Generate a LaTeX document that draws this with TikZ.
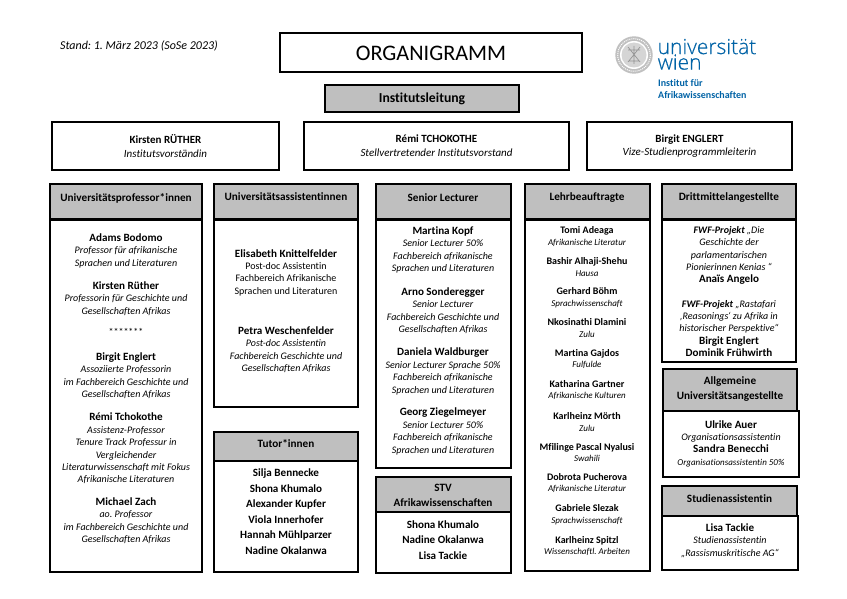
\documentclass[tikz,border=0pt]{standalone}
\usepackage{fontspec}
\setmainfont{Carlito}[Ligatures=CommonOff]
\newfontfamily\logofont{Open Sans Light}[FakeBold=0.4]
\usepackage{xcolor}
\frenchspacing
\definecolor{headgray}{RGB}{191,191,191}
\definecolor{univblue}{RGB}{0,99,166}
\definecolor{sealgray}{RGB}{150,150,150}
\newcommand{\nm}[1]{{\fontsize{11.1}{12.4}\selectfont\bfseries #1}}
\newcommand{\rl}[1]{{\fontsize{10}{12.4}\selectfont\itshape #1}}
\newcommand{\nms}[1]{{\fontsize{10}{11.6}\selectfont\bfseries #1}}
\newcommand{\rls}[1]{{\fontsize{9}{11.6}\selectfont\itshape #1}}
\tikzset{
	frame/.style={draw=black,line width=2pt,fill=white,inner sep=0pt,outer sep=0pt,anchor=north west},
	head/.style={frame,fill=headgray},
	lines/.style={align=center,inner sep=0pt,font=\fontsize{10}{12.4}\selectfont},
	toplines/.style={align=center,inner sep=0pt,font=\fontsize{11}{13.7}\selectfont},
	minilines/.style={align=center,inner sep=0pt,font=\fontsize{9}{11.6}\selectfont},
	names/.style={align=center,inner sep=0pt,font=\fontsize{11.1}{15.6}\selectfont\bfseries},
	caption/.style={align=center,inner sep=0pt,font=\fontsize{11.2}{15}\selectfont\bfseries},
}
\begin{document}
\begin{tikzpicture}[x=1pt,y=-1pt]
	\useasboundingbox (0,0) rectangle (847,599);
	\fill[white] (0,0) rectangle (847,599);
	
	% titel und stand
	\node[anchor=west,inner sep=0pt,font=\fontsize{12}{14}\selectfont\itshape] (stand) at (60,46) {Stand: 1. März 2023 (SoSe 2023)};
	\node[frame,minimum width=302pt,minimum height=39pt] (title) at (280,33) {};
	\node[inner sep=0pt,font=\fontsize{22.2}{24}\selectfont] (titletext) at (431,53) {ORGANIGRAMM};
	\node[head,minimum width=194pt,minimum height=27pt] (leitung) at (325,85) {};
	\node[inner sep=0pt,font=\fontsize{13.7}{15}\selectfont\bfseries] (leitungtext) at (422,99) {Institutsleitung};
	
	% logo
	\fill[sealgray!60] (634,55) circle (18.7);
	\fill[white] (634,55) circle (14);
	\fill[sealgray!40] (634,55) circle (12.5);
	\draw[white,line width=1pt,densely dotted] (634,55) circle (16.3);
	\draw[sealgray,line width=0.7pt] (628,50)--(640,50) (629,61)--(639,61) (634,46)--(634,64) (628,47)--(640,62) (640,47)--(628,62);
	\node[anchor=west,inner sep=0pt,align=left,text=univblue,font=\fontsize{21}{15.5}\logofont] (univ) at (657.5,54.3) {universität\\wien};
	\node[anchor=west,inner sep=0pt,align=left,text=univblue,font=\fontsize{10}{12}\selectfont\bfseries] (institut) at (658,89) {Institut für\\Afrikawissenschaften};
	
	% institutsleitung
	\node[frame,minimum width=227pt,minimum height=48pt] (ruether) at (52,122) {};
	\node[toplines] (ruethertext) at (ruether.center) {\textbf{Kirsten RÜTHER}\\\textit{Institutsvorständin}};
	\node[frame,minimum width=265pt,minimum height=48pt] (tchokothe) at (304,122) {};
	\node[toplines] (tchokothetext) at (tchokothe.center) {\textbf{Rémi TCHOKOTHE}\\\textit{Stellvertretender Institutsvorstand}};
	\node[frame,minimum width=205pt,minimum height=48pt] (englert) at (587,122) {};
	\node[toplines] (englerttext) at (englert.center) {\textbf{Birgit ENGLERT}\\\textit{Vize-Studienprogrammleiterin}};
	
	% spalte 1
	\node[frame,minimum width=152pt,minimum height=352pt] (profbody) at (50,220) {};
	\node[head,minimum width=152pt,minimum height=35pt] (profhead) at (50,184) {};
	\node[caption] (profcap) at (126,198) {Universitätsprofessor*innen};
	\node[lines] (bodomo) at (126,250.7) {\nm{Adams Bodomo}\\\rl{Professor für afrikanische}\\\rl{Sprachen und Literaturen}};
	\node[lines] (ruetherb) at (126,298.5) {\nm{Kirsten Rüther}\\\rl{Professorin für Geschichte und}\\\rl{Gesellschaften Afrikas}};
	\node[lines] (stars) at (126,332) {*******};
	\node[lines] (englertb) at (126,375.5) {\nm{Birgit Englert}\\\rl{Assoziierte Professorin}\\\rl{im Fachbereich Geschichte und}\\\rl{Gesellschaften Afrikas}};
	\node[lines] (tchokotheb) at (126,448.5) {\nm{Rémi Tchokothe}\\\rl{Assistenz-Professor}\\\rl{Tenure Track Professur in}\\\rl{Vergleichender}\\\rl{Literaturwissenschaft mit Fokus}\\\rl{Afrikanische Literaturen}};
	\node[lines] (zach) at (126,520.5) {\nm{Michael Zach}\\\rl{ao. Professor}\\\rl{im Fachbereich Geschichte und}\\\rl{Gesellschaften Afrikas}};
	
	% spalte 2
	\node[frame,minimum width=143.5pt,minimum height=187pt] (assbody) at (214,220) {};
	\node[head,minimum width=144pt,minimum height=35pt] (asshead) at (214,184) {};
	\node[caption] (asscap) at (286,197) {Universitätsassistentinnen};
	\node[lines] (knittel) at (286,272.7) {\nm{Elisabeth Knittelfelder}\\Post-doc Assistentin\\Fachbereich Afrikanische\\Sprachen und Literaturen};
	\node[lines] (weschen) at (286,349.7) {\nm{Petra Weschenfelder}\\\rl{Post-doc Assistentin}\\\rl{Fachbereich Geschichte und}\\\rl{Gesellschaften Afrikas}};
	\node[frame,minimum width=144pt,minimum height=111pt] (tutorbody) at (214,461) {};
	\node[head,minimum width=144pt,minimum height=29pt] (tutorhead) at (214,432) {};
	\node[caption] (tutorcap) at (286,444) {Tutor*innen};
	\node[names] (tutornames) at (286,511.7) {Silja Bennecke\\Shona Khumalo\\Alexander Kupfer\\Viola Innerhofer\\Hannah Mühlparzer\\Nadine Okalanwa};
	
	% spalte 3
	\node[frame,minimum width=135pt,minimum height=248pt] (seniorbody) at (375.5,220) {};
	\node[head,minimum width=135pt,minimum height=35pt] (seniorhead) at (375.5,184) {};
	\node[caption] (seniorcap) at (443,197.5) {Senior Lecturer};
	\node[lines] (kopf) at (443,250) {\nm{Martina Kopf}\\\rl{Senior Lecturer 50\%}\\\rl{Fachbereich afrikanische}\\\rl{Sprachen und Literaturen}};
	\node[lines] (sonder) at (443,310.5) {\nm{Arno Sonderegger}\\\rl{Senior Lecturer}\\\rl{Fachbereich Geschichte und}\\\rl{Gesellschaften Afrikas}};
	\node[lines] (wald) at (443,371.5) {\nm{Daniela Waldburger}\\\rl{Senior Lecturer Sprache 50\%}\\\rl{Fachbereich afrikanische}\\\rl{Sprachen und Literaturen}};
	\node[lines] (ziegel) at (443,431.5) {\nm{Georg Ziegelmeyer}\\\rl{Senior Lecturer 50\%}\\\rl{Fachbereich afrikanische}\\\rl{Sprachen und Literaturen}};
	\node[frame,minimum width=135pt,minimum height=61pt] (stvbody) at (375.5,512) {};
	\node[head,minimum width=135pt,minimum height=35pt] (stvhead) at (375.5,477) {};
	\node[caption] (stvcap) at (443,495.5) {STV\\Afrikawissenschaften};
	\node[names] (stvnames) at (443,540) {Shona Khumalo\\Nadine Okalanwa\\Lisa Tackie};
	
	% spalte 4
	\node[frame,minimum width=125pt,minimum height=351pt] (lehrbody) at (524.5,220) {};
	\node[head,minimum width=125pt,minimum height=35pt] (lehrhead) at (524.5,184) {};
	\node[caption] (lehrcap) at (587,198) {Lehrbeauftragte};
	\node[minilines] (adeaga) at (587,236.5) {\nms{Tomi Adeaga}\\\rls{Afrikanische Literatur}};
	\node[minilines] (alhaji) at (587,267) {\nms{Bashir Alhaji-Shehu}\\\rls{Hausa}};
	\node[minilines] (boehm) at (587,298) {\nms{Gerhard Böhm}\\\rls{Sprachwissenschaft}};
	\node[minilines] (dlamini) at (587,328) {\nms{Nkosinathi Dlamini}\\\rls{Zulu}};
	\node[minilines] (gajdos) at (587,359) {\nms{Martina Gajdos}\\\rls{Fulfulde}};
	\node[minilines] (gartner) at (587,390) {\nms{Katharina Gartner}\\\rls{Afrikanische Kulturen}};
	\node[minilines] (moerth) at (587,422) {\nms{Karlheinz Mörth}\\\rls{Zulu}};
	\node[minilines] (nyalusi) at (587,452.5) {\nms{Mfilinge Pascal Nyalusi}\\\rls{Swahili}};
	\node[minilines] (pucherova) at (587,483) {\nms{Dobrota Pucherova}\\\rls{Afrikanische Literatur}};
	\node[minilines] (slezak) at (587,515) {\nms{Gabriele Slezak}\\\rls{Sprachwissenschaft}};
	\node[minilines] (spitzl) at (587,546) {\nms{Karlheinz Spitzl}\\\rls{Wissenschaftl. Arbeiten}};
	
	% spalte 5
	\node[frame,minimum width=134pt,minimum height=142pt] (drittbody) at (662,220) {};
	\node[head,minimum width=134pt,minimum height=35pt] (dritthead) at (662,184) {};
	\node[caption] (drittcap) at (729,198) {Drittmittelangestellte};
	\node[lines] (fwfa) at (729,255.5) {\rl{\textbf{FWF-Projekt} „Die}\\\rl{Geschichte der}\\\rl{parlamentarischen}\\\rl{Pionierinnen Kenias “}\\\nm{Anaïs Angelo}};
	\node[lines] (fwfb) at (729,328.5) {\rl{\textbf{FWF-Projekt} „Rastafari}\\\rl{‚Reasonings‘ zu Afrika in}\\\rl{historischer Perspektive“}\\\nm{Birgit Englert}\\\nm{Dominik Frühwirth}};
	\node[frame,minimum width=136pt,minimum height=66pt] (allgbody) at (663,411) {};
	\node[head,minimum width=134pt,minimum height=42pt] (allghead) at (663,369) {};
	\node[caption] (allgcap) at (730,389.5) {Allgemeine\\Universitätsangestellte};
	\node[lines] (auer) at (731,443.5) {\nm{Ulrike Auer}\\\rl{Organisationsassistentin}\\\nm{Sandra Benecchi}\\{\fontsize{9}{12.4}\selectfont\itshape Organisationsassistentin 50\%}};
	\node[frame,minimum width=136pt,minimum height=54pt] (studbody) at (662,516) {};
	\node[head,minimum width=135pt,minimum height=30pt] (studhead) at (662,486) {};
	\node[caption] (studcap) at (729.5,499) {Studienassistentin};
	\node[lines] (tackie) at (730,540.5) {\nm{Lisa Tackie}\\\rl{Studienassistentin}\\\rl{„Rassismuskritische AG“}};
\end{tikzpicture}
\end{document}
